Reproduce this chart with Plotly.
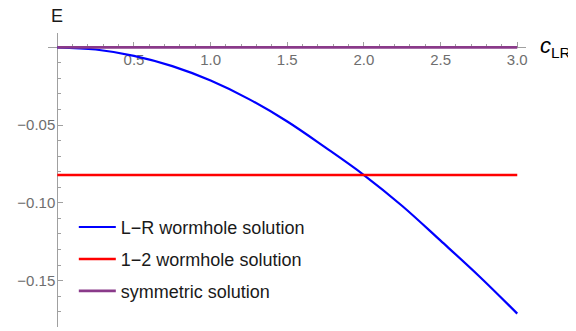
# Import Modules
import plotly.graph_objs as go

# Data
c_lr = [0, 0.25, 0.5, 0.75, 1.0, 1.25, 1.5, 1.75, 2.0, 2.25, 2.5, 2.75, 3.0]
e_lr = [0, -0.0014, -0.0055, -0.0121, -0.0214, -0.0333, -0.0477, -0.0645,
        -0.0821, -0.1020, -0.1243, -0.1470, -0.1712]
c_flat = [0, 3.0]
e_12 = [-0.0821, -0.0821]
e_sym = [0, 0]

x_ticks = [0.5, 1.0, 1.5, 2.0, 2.5, 3.0]
x_ticktext = ['0.5', '1.0', '1.5', '2.0', '2.5', '3.0']
y_ticks = [-0.15, -0.10, -0.05]
y_ticktext = ['\u22120.15', '\u22120.10', '\u22120.05']

font_family = 'Liberation Sans, Arial, sans-serif'
axis_gray = '#a0a0a0'
label_gray = '#6e6e6e'

x_range = [-0.0607, 3.057]
y_range = [-0.1798, 0.0092]

# Create traces
trace_lr = go.Scatter(x=c_lr, y=e_lr, mode='lines', name='L\u2212R wormhole solution',
                      line=dict(color='#0000ff', width=2.2, shape='spline'),
                      legendgroup='a')
trace_12 = go.Scatter(x=c_flat, y=e_12, mode='lines', name='1\u22122 wormhole solution',
                      line=dict(color='#ff0000', width=2.5),
                      legendgroup='b')
trace_sym = go.Scatter(x=c_flat, y=e_sym, mode='lines', name='symmetric solution',
                       line=dict(color='#8a3a8a', width=2.8),
                       legendgroup='c')

# Axis positions so that the axes cross at the origin
x_pos = (0 - y_range[0]) / (y_range[1] - y_range[0])
y_pos = (0 - x_range[0]) / (x_range[1] - x_range[0])

# Create layout (page body adds 8px margin, so the figure is 8px smaller)
layout = go.Layout(
    width=568, height=323,
    margin=dict(l=40, r=50, t=25, b=4),
    paper_bgcolor='white', plot_bgcolor='white',
    font=dict(family=font_family),
    showlegend=True,
    legend=dict(x=0.054, y=0.402, xanchor='left', yanchor='top',
                font=dict(size=18, color='#1a1a1a'), itemwidth=37,
                bgcolor='rgba(0,0,0,0)', tracegroupgap=5.5),
    xaxis=dict(range=x_range, showgrid=False, zeroline=False,
               showline=True, linecolor=axis_gray, linewidth=1,
               anchor='free', position=x_pos, layer='below traces',
               tickmode='array', tickvals=x_ticks, ticktext=x_ticktext,
               ticks='inside', ticklen=5, tickcolor=axis_gray,
               ticklabelstandoff=-1,
               tickfont=dict(size=15, color=label_gray),
               minor=dict(dtick=0.1, tick0=0, ticks='inside', ticklen=3,
                          tickcolor=axis_gray)),
    yaxis=dict(range=y_range, showgrid=False, zeroline=False,
               showline=True, linecolor=axis_gray, linewidth=1,
               anchor='free', position=y_pos, layer='below traces',
               tickmode='array', tickvals=y_ticks, ticktext=y_ticktext,
               ticks='inside', ticklen=5, tickcolor=axis_gray,
               ticklabelstandoff=-1,
               tickfont=dict(size=15, color=label_gray),
               minor=dict(dtick=0.01, tick0=0, ticks='inside', ticklen=3,
                          tickcolor=axis_gray)),
    annotations=[
        dict(text='E', x=0, y=1, xref='x', yref='paper', xanchor='center',
             yanchor='bottom', yshift=5, showarrow=False,
             font=dict(size=18, color='#1a1a1a')),
        dict(text='<i>c</i><sub>LR</sub>/J', x=1, y=0, xref='paper', yref='y',
             xanchor='left', yanchor='middle', xshift=12, showarrow=False,
             font=dict(size=22, color='black')),
    ],
)

# Create plot
fig = go.Figure(data=[trace_lr, trace_12, trace_sym], layout=layout)
fig.write_html('out.html')
